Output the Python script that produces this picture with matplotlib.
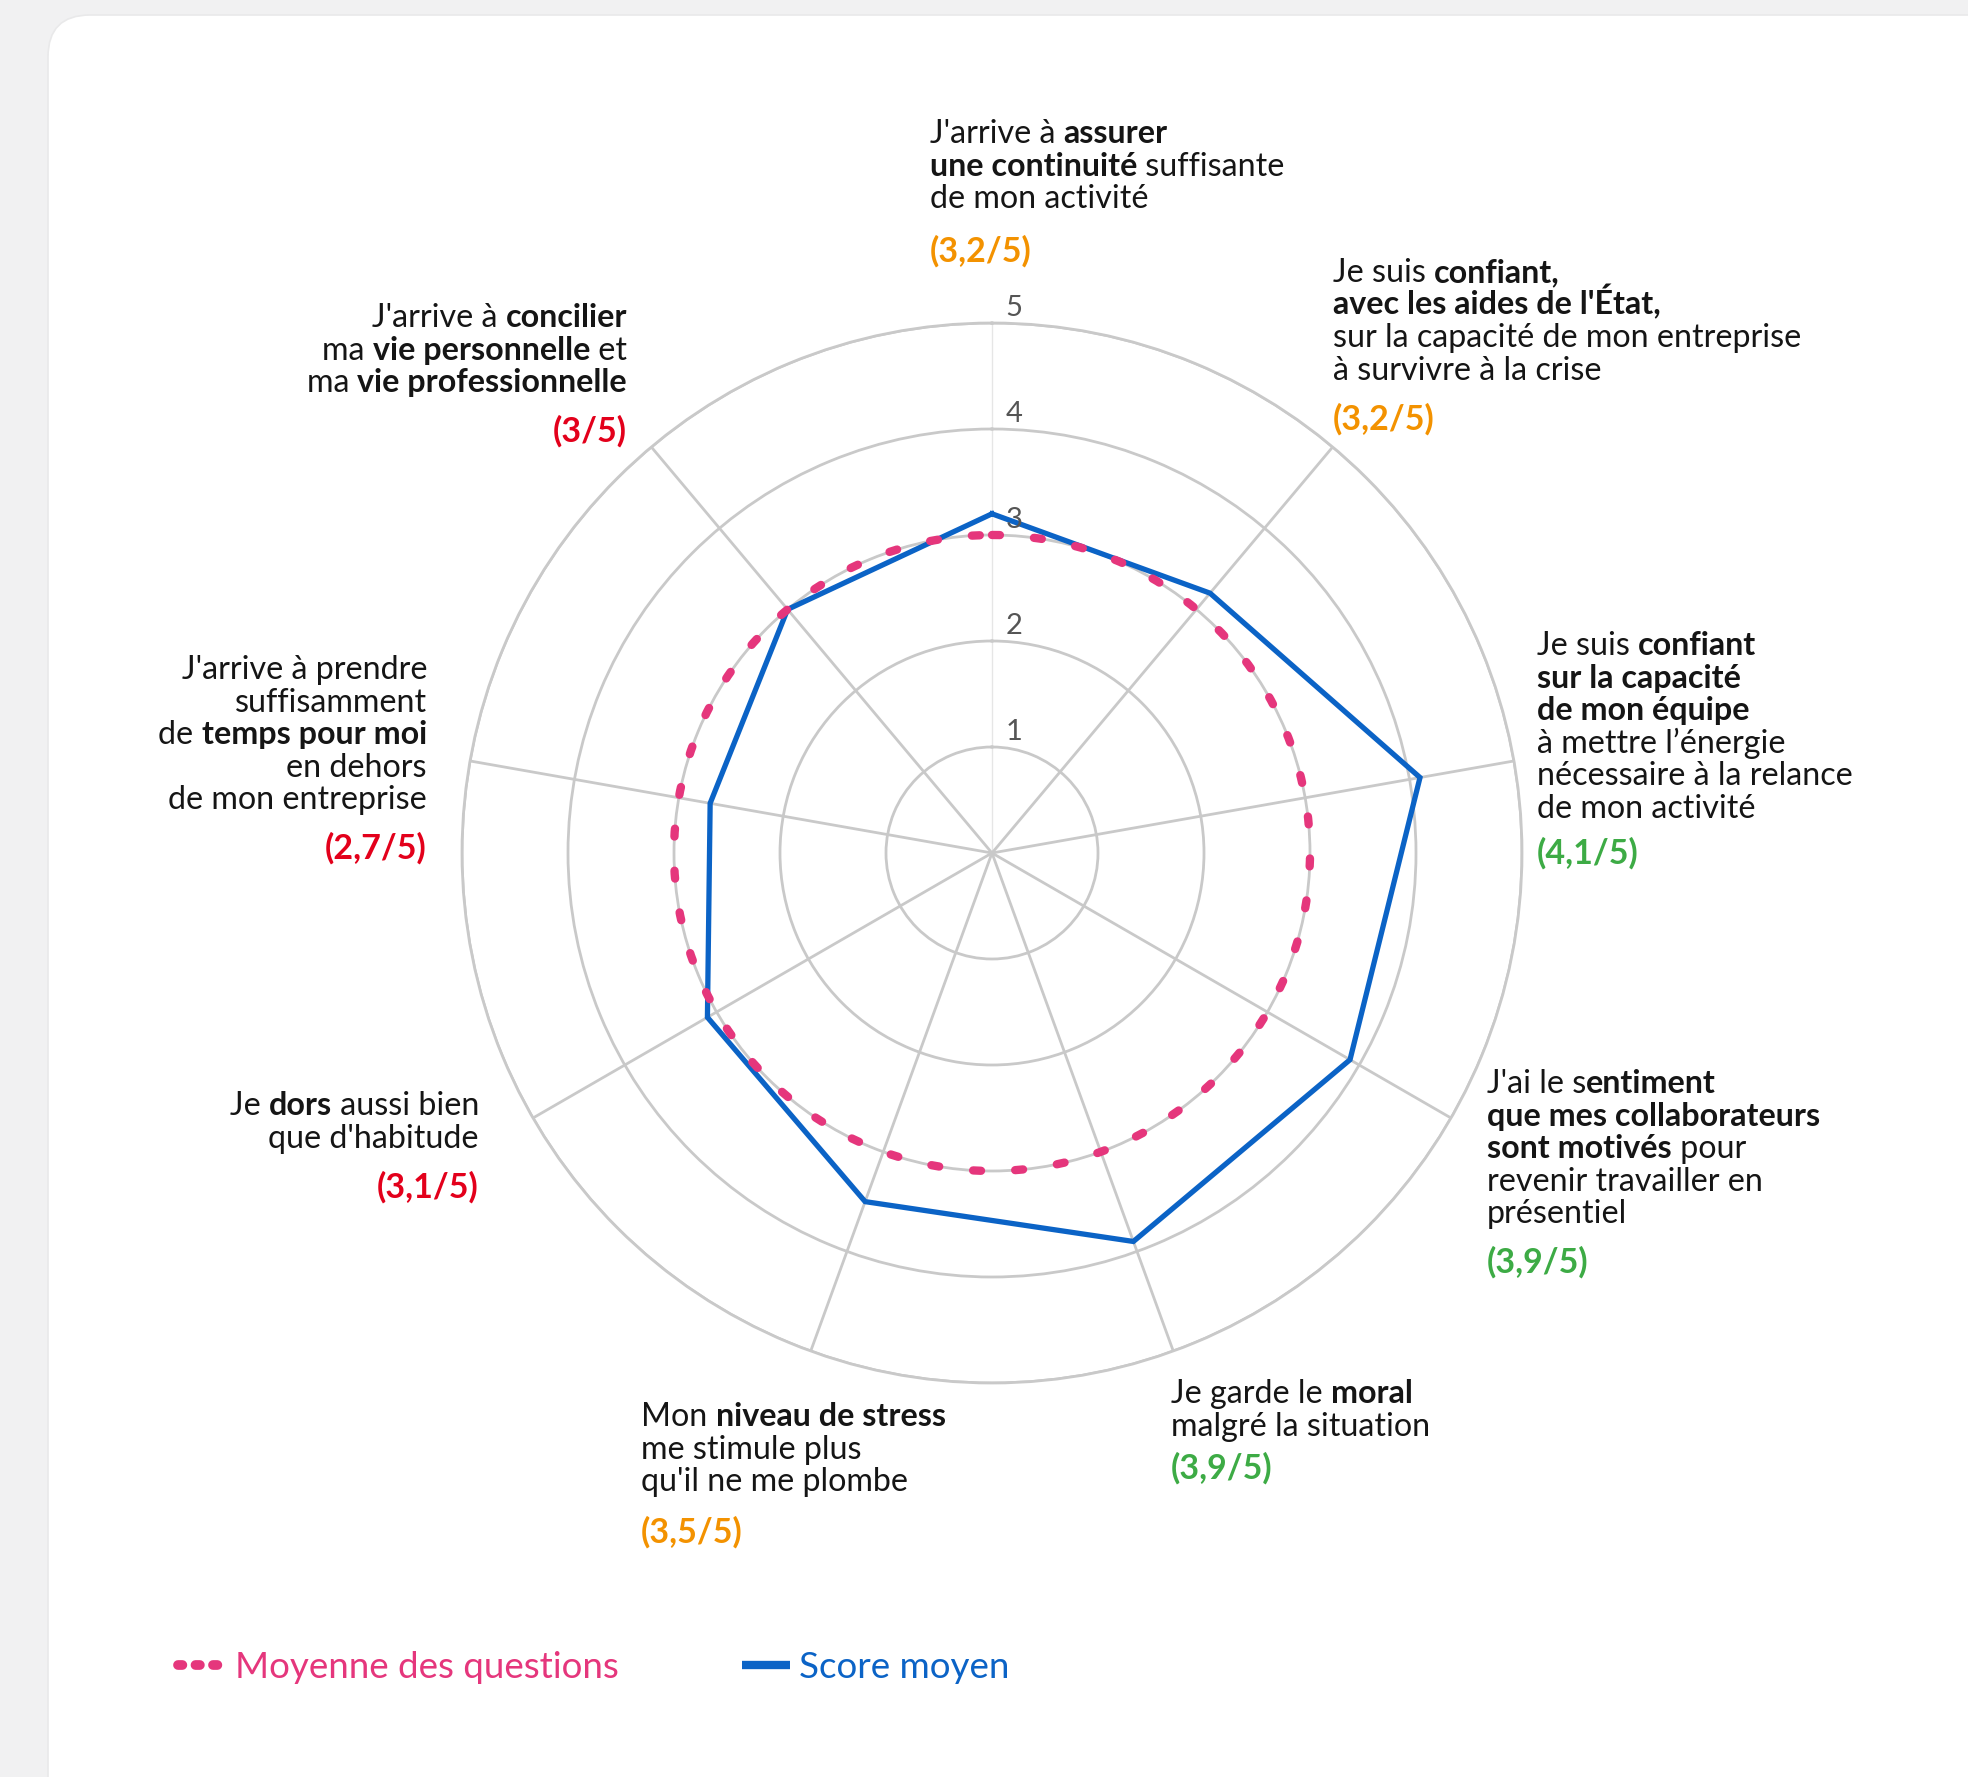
import numpy as np
import matplotlib
matplotlib.use("Agg")
import matplotlib.pyplot as plt
from matplotlib.patches import FancyBboxPatch
from matplotlib.lines import Line2D
from matplotlib.transforms import IdentityTransform

# ---------------- data ----------------
questions = [
    [[("J'arrive à ", 0), ("assurer", 1)], [("une continuité", 1), (" suffisante", 0)], [("de mon activité", 0)]],
    [[("Je suis ", 0), ("confiant,", 1)], [("avec les aides de l'État,", 1)],
     [("sur la capacité de mon entreprise", 0)], [("à survivre à la crise", 0)]],
    [[("Je suis ", 0), ("confiant", 1)], [("sur la capacité", 1)], [("de mon équipe", 1)],
     [("à mettre l’énergie", 0)], [("nécessaire à la relance", 0)], [("de mon activité", 0)]],
    [[("J'ai le s", 0), ("entiment", 1)], [("que mes collaborateurs", 1)], [("sont motivés", 1), (" pour", 0)],
     [("revenir travailler en", 0)], [("présentiel", 0)]],
    [[("Je garde le ", 0), ("moral", 1)], [("malgré la situation", 0)]],
    [[("Mon ", 0), ("niveau de stress", 1)], [("me stimule plus", 0)], [("qu'il ne me plombe", 0)]],
    [[("Je ", 0), ("dors", 1), (" aussi bien", 0)], [("que d'habitude", 0)]],
    [[("J'arrive à prendre", 0)], [("suffisamment", 0)], [("de ", 0), ("temps pour moi", 1)],
     [("en dehors", 0)], [("de mon entreprise", 0)]],
    [[("J'arrive à ", 0), ("concilier", 1)], [("ma ", 0), ("vie personnelle", 1), (" et", 0)],
     [("ma ", 0), ("vie professionnelle", 1)]],
]
score_moyen = [3.2, 3.2, 4.1, 3.9, 3.9, 3.5, 3.1, 2.7, 3.0]
moyenne_questions = [3.0, 3.0, 3.0, 3.0, 3.0, 3.0, 3.0, 3.0, 3.0]
value_labels = ["(3,2/5)", "(3,2/5)", "(4,1/5)", "(3,9/5)", "(3,9/5)", "(3,5/5)", "(3,1/5)", "(2,7/5)", "(3/5)"]
value_levels = ["orange", "orange", "green", "green", "green", "orange", "red", "red", "red"]
r_ticks = [1, 2, 3, 4, 5]
r_tick_labels = ["1", "2", "3", "4", "5"]
legend_labels = ["Moyenne des questions", "Score moyen"]

# ---------------- layout / style ----------------
W, H, DPI = 1968, 1777, 100
FONT = ["Lato", "DejaVu Sans"]
FS = 23.2
FS_VAL = 24.5
LINE_H = 32.6
TEXT_COL = "#151515"
LEVEL_COL = {"orange": "#f39200", "green": "#3dab45", "red": "#e3001b"}
BLUE = "#0b63c6"
PINK = "#e5367c"
GRID = "#c9c9c9"

# label anchors: (x, first baseline, value baseline, align)
label_pos = [
    (930, 143, 262, "left"),
    (1333, 282, 430, "left"),
    (1537, 655, 864, "left"),
    (1487, 1093, 1273, "left"),
    (1171, 1403, 1479, "left"),
    (641, 1426, 1543, "left"),
    (479, 1115, 1198, "right"),
    (427, 679, 859, "right"),
    (627, 327, 442, "right"),
]

fig = plt.figure(figsize=(W / DPI, H / DPI), dpi=DPI)
fig.patch.set_facecolor("#f1f1f2")

card = FancyBboxPatch((48, -120), 2100, 1762 + 120,
                      boxstyle="round,pad=0,rounding_size=42",
                      facecolor="white", edgecolor="#e9e9ea", lw=1.2,
                      transform=IdentityTransform(), zorder=-10)
fig.add_artist(card)

cx, cy, R = 992, 853, 530
ax = fig.add_axes([(cx - R) / W, (H - cy - R) / H, 2 * R / W, 2 * R / H], projection="polar")
ax.set_zorder(1)
ax.set_theta_zero_location("N")
ax.set_theta_direction(-1)
ax.patch.set_alpha(0)

n = len(score_moyen)
angles_deg = np.arange(n) * 360.0 / n
theta = np.deg2rad(angles_deg)
ax.set_thetagrids(angles_deg, labels=[""] * n)
ax.set_rgrids(r_ticks, labels=[""] * len(r_ticks))
ax.set_ylim(0, 5)
ax.grid(True, color=GRID, lw=2.0)
ax.spines["polar"].set_color(GRID)
ax.spines["polar"].set_linewidth(2.0)
ax.tick_params(axis="y", length=0)
ax.tick_params(axis="x", direction="in", length=11, width=2.0, color="#bdbdbd", pad=0)
gl = ax.xaxis.get_gridlines()
gl[0].set_color("#e6e6e6")
gl[0].set_linewidth(1.0)

for r, lab in zip(r_ticks, r_tick_labels):
    ax.annotate(lab, xy=(0, r), xytext=(22, 15), textcoords="offset pixels",
                ha="center", va="center", fontsize=21, color="#555555",
                family=FONT, zorder=6)

theta_c = np.append(theta, 2 * np.pi)
blue_line, = ax.plot(theta_c, score_moyen + score_moyen[:1], color=BLUE, lw=3.8,
                     solid_joinstyle="miter", zorder=4)
pink_line, = ax.plot(theta_c, moyenne_questions + moyenne_questions[:1], color=PINK, lw=6.0,
                     linestyle=(0, (0.95, 4.1)), dash_capstyle="round", zorder=5)
pink_line.get_path()._interpolation_steps = 60

# ---------------- rich labels ----------------
renderer = fig.canvas.get_renderer()
_cache = {}


def seg_w(s, bold):
    key = (s, bold)
    if key not in _cache:
        t = fig.text(0, 0, "|" + s + "|", fontsize=FS, family=FONT,
                     weight="bold" if bold else "normal")
        w = t.get_window_extent(renderer).width
        t.remove()
        t2 = fig.text(0, 0, "||", fontsize=FS, family=FONT, weight="bold" if bold else "normal")
        w2 = t2.get_window_extent(renderer).width
        t2.remove()
        _cache[key] = w - w2
    return _cache[key]


for lines, (x0, b0, vb, align), vlab, lvl in zip(questions, label_pos, value_labels, value_levels):
    for i, line in enumerate(lines):
        widths = [seg_w(s, b) for s, b in line]
        total = sum(widths)
        x = x0 if align == "left" else x0 - total
        y = b0 + i * LINE_H
        for (s, b), w in zip(line, widths):
            fig.text(x / W, (H - y) / H, s, fontsize=FS, family=FONT,
                     weight="bold" if b else "normal", color=TEXT_COL,
                     ha="left", va="baseline")
            x += w
    fig.text(x0 / W, (H - vb) / H, vlab, fontsize=FS_VAL, family=FONT, weight="bold",
             color=LEVEL_COL[lvl], ha=align, va="baseline")

# ---------------- legend ----------------
h_pink = Line2D([], [], color=PINK, lw=7.0, linestyle=(0, (0.45, 1.35)), dash_capstyle="round")
h_blue = Line2D([], [], color=BLUE, lw=6.0, solid_capstyle="butt")
fig.legend([h_pink, h_blue], legend_labels, loc="center left",
           bbox_to_anchor=(178 / W, 1 - 1667 / H), ncol=2, frameon=False,
           prop={"family": FONT, "size": 26.5}, handlelength=1.3, handletextpad=0.26,
           columnspacing=3.33, borderpad=0, borderaxespad=0,
           labelcolor=[PINK, BLUE])

fig.savefig("out.png", dpi=DPI, facecolor=fig.get_facecolor())
